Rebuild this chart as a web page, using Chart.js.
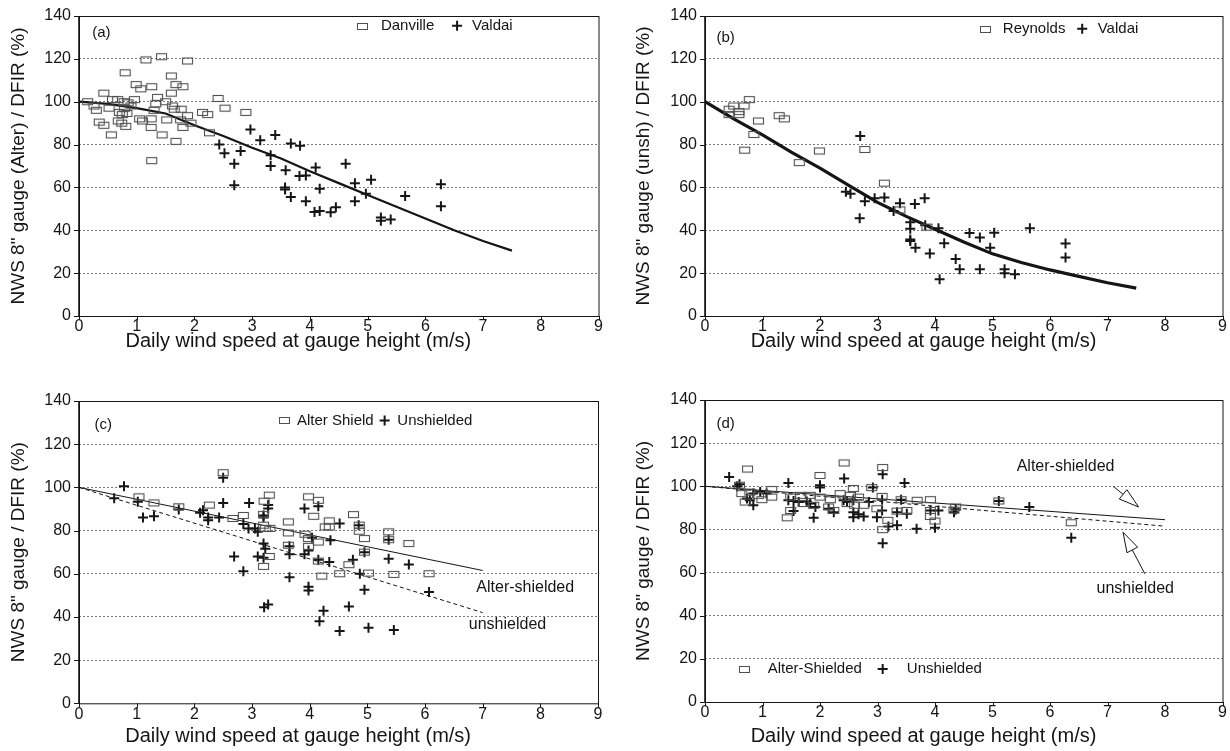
<!DOCTYPE html>
<html>
<head>
<meta charset="utf-8">
<title>NWS 8" gauge / DFIR vs wind speed</title>
<script src="https://cdn.jsdelivr.net/npm/chart.js@4.4.1/dist/chart.umd.min.js"></script>
<style>
  body { margin: 0; background: #fff; }
  #wrap { position: relative; width: 1230px; height: 751px; }
  #wrap canvas { position: absolute; }
</style>
</head>
<body>
<div id="wrap">
  <canvas id="pa" width="615" height="375" style="left:0;top:0"></canvas>
  <canvas id="pb" width="615" height="375" style="left:615px;top:0"></canvas>
  <canvas id="pc" width="615" height="376" style="left:0;top:375px"></canvas>
  <canvas id="pd" width="615" height="376" style="left:615px;top:375px"></canvas>
</div>
<script>
// axes
const xTickVals = [0, 1, 2, 3, 4, 5, 6, 7, 8, 9];
const yTickVals = [0, 20, 40, 60, 80, 100, 120, 140];
const xTitle = 'Daily wind speed at gauge height (m/s)';

// (a) Danville / Valdai, Alter-shielded gauge
const danvilleX = [1.16, 1.43, 1.88, 0.80, 1.60, 0.99, 1.07, 1.26, 1.68, 1.80, 1.60, 0.43, 0.67, 0.78, 0.96, 1.36, 2.41,
  0.15, 0.26, 0.30, 0.52, 0.70, 0.75, 0.68, 0.74, 1.33, 1.30, 1.25, 1.25, 1.10, 1.62, 1.65, 1.77, 1.88, 1.52, 1.76, 1.80,
  1.94, 2.14, 2.23, 2.53, 2.89, 2.26, 0.35, 0.43, 0.56, 0.81, 1.44, 1.68, 1.26, 1.05, 0.90, 0.58, 0.85, 0.79, 0.83, 1.50];
const danvilleY = [119.5, 121, 119, 113.5, 112, 108, 106, 107, 108, 107, 104, 104, 101, 100, 101, 102, 101.5,
  100, 98, 96, 97, 95, 94, 91, 90, 99, 96, 92, 88, 91, 98, 96.5, 96.5, 93.5, 91.5, 91.5, 88,
  90, 95, 94, 97, 95, 85.5, 90.5, 89, 84.5, 88.5, 84.5, 81.5, 72.5, 92, 98, 101, 99.5, 97, 94.5, 100];
const valdaiAX = [2.97, 3.14, 3.40, 2.43, 2.52, 2.80, 2.69, 2.69, 3.67, 3.83, 3.32, 3.32, 3.58, 3.82, 3.93, 4.10, 4.62,
  3.57, 3.57, 3.67, 3.93, 4.17, 4.08, 4.17, 4.36, 4.45, 4.78, 5.06, 4.78, 4.97, 5.23, 5.23, 5.40, 5.65, 6.27, 6.27];
const valdaiAY = [87, 82, 84.5, 80, 76, 77, 71, 61, 80.5, 79.5, 75, 70, 68, 65.3, 65.6, 69.3, 71,
  60, 59, 55.5, 53.5, 59.4, 48.5, 49, 48.4, 50.7, 62, 63.6, 53.5, 57, 46, 44.5, 45, 56, 61.5, 51.2];
const curveAX = [0, 0.5, 1, 1.5, 2, 2.5, 3, 3.5, 4, 4.5, 5, 5.5, 6, 6.5, 7, 7.5];
const curveAY = [100, 99, 97, 94.5, 89, 84, 78.5, 73.5, 67.5, 62, 56.5, 51, 45.5, 40, 35, 30.5];

// (b) Reynolds / Valdai, unshielded gauge
const reynoldsX = [0.42, 0.42, 0.50, 0.68, 0.77, 0.59, 0.59, 0.93, 0.85, 0.69, 1.29, 1.38, 1.64, 1.99, 2.78, 3.12, 3.39, 3.86];
const reynoldsY = [96.5, 94, 98, 98, 101, 95.4, 94, 91, 84.7, 77.4, 93.5, 92, 71.6, 77, 77.7, 62, 49.5, 41.5];
const valdaiBX = [2.70, 2.45, 2.53, 2.78, 2.69, 2.95, 3.12, 3.39, 3.28, 3.65, 3.82, 3.57, 3.57, 3.57, 3.57, 3.66, 3.91,
  3.83, 4.06, 4.16, 4.08, 4.36, 4.43, 4.60, 4.78, 5.03, 4.96, 4.78, 5.21, 5.21, 5.39, 5.65, 6.27, 6.27];
const valdaiBY = [84, 58, 57, 53.5, 45.6, 55, 55.3, 52.6, 49, 52.3, 55, 43.8, 40.7, 35.7, 35, 31.8, 29.2,
  42.3, 41, 34, 17.2, 26.6, 21.8, 38.7, 36.6, 38.9, 31.8, 21.8, 21.8, 20, 19.5, 41, 33.8, 27.3];
const curveBX = [0, 0.5, 1, 1.5, 2, 2.5, 3, 3.5, 4, 4.5, 5, 5.5, 6, 6.5, 7, 7.5];
const curveBY = [100, 92, 84.5, 76.5, 69, 61, 53, 46.5, 40.5, 34.5, 29, 25, 21.5, 18.5, 15.5, 13];

// (c) Alter shield vs unshielded
const alterCX = [2.50, 1.04, 1.30, 1.73, 2.26, 2.85, 2.67, 3.30, 3.21, 3.20, 3.20, 3.23, 3.31, 3.63, 3.63, 3.63, 3.98,
  4.15, 4.07, 3.92, 3.98, 4.15, 3.98, 3.30, 3.20, 4.15, 4.21, 4.27, 4.34, 4.34, 4.76, 4.86, 4.86, 4.95, 4.95, 5.37,
  5.37, 5.72, 4.68, 4.52, 5.02, 5.46, 6.07];
const alterCY = [106.8, 95.6, 92.8, 91, 91.8, 87, 85.6, 96.4, 93.6, 87.5, 82.5, 81, 81, 84, 78.9, 73.2, 95.6,
  94, 86.6, 78.3, 76.3, 74.7, 72.7, 68, 63.4, 65.9, 58.9, 81.7, 84.5, 81.7, 87.4, 82.5, 79.7, 76.3, 70, 79.4,
  75.8, 74, 64.2, 60, 60.3, 59.7, 60];
const unshCX = [0.78, 0.61, 1.02, 1.11, 1.30, 1.73, 2.10, 2.15, 2.24, 2.24, 2.43, 2.50, 2.50, 2.95, 2.85, 2.94, 3.05,
  3.10, 3.28, 3.28, 3.20, 3.20, 3.20, 3.23, 3.10, 3.20, 2.69, 2.85, 3.91, 4.15, 3.65, 3.65, 3.91, 3.98, 4.04, 4.15,
  3.65, 3.98, 3.98, 3.21, 3.28, 4.52, 4.85, 5.37, 4.36, 4.34, 4.75, 4.87, 4.95, 5.37, 5.72, 4.95, 6.07, 4.24, 4.17,
  4.68, 4.52, 5.02, 5.46];
const unshCY = [100.5, 95, 93.3, 86, 86.6, 89.8, 88.2, 89.4, 86, 84.8, 86, 104.5, 92.8, 92.8, 83, 81, 81,
  79.4, 91.8, 90.2, 87, 86, 74, 71.6, 68, 67.4, 68, 61.2, 90.2, 91.3, 72.7, 69, 69, 70.8, 76.7, 66.5,
  58.4, 54, 52.2, 44.5, 45.7, 83.3, 82.5, 75.8, 75.5, 65.4, 66.5, 60, 70, 67, 64.3, 52.6, 51.5, 42.9, 38,
  44.8, 33.5, 35, 34];
const fitCX = [0, 7];
const fitCAlterY = [100, 61.5];
const fitCUnshY = [100, 42];

// (d) Alter-shielded vs unshielded
const alterDX = [0.74, 2.42, 3.09, 2.00, 0.60, 0.78, 0.93, 0.64, 0.99, 0.70, 1.16, 1.16, 1.49, 1.66, 1.83, 2.00, 2.18,
  2.35, 2.53, 2.67, 2.58, 2.90, 3.08, 1.49, 1.43, 1.71, 1.89, 2.15, 2.24, 2.47, 2.60, 2.76, 2.99, 3.18, 3.09, 3.34,
  3.51, 3.41, 3.69, 3.92, 3.92, 3.92, 4.00, 4.36, 4.33, 5.11, 6.37];
const alterDY = [108, 110.8, 108.7, 105, 100.5, 97.3, 95.8, 96.6, 93.8, 92.7, 98.5, 95, 95, 95.8, 95.8, 95, 93.8,
  96.6, 95.8, 95, 99, 99.4, 95.3, 88.8, 85.4, 92, 91.2, 90.4, 88.8, 92, 91.2, 91.2, 89.6, 84.2, 79.9, 88.5,
  88.8, 93.8, 93.5, 93.8, 88.8, 86, 83.9, 90.4, 89, 93.2, 83.1];
const unshDX = [0.42, 0.60, 0.56, 1.45, 2.42, 2.00, 2.00, 3.09, 3.47, 2.92, 0.84, 0.96, 0.78, 0.84, 0.73, 1.07, 1.45,
  1.54, 1.63, 1.77, 1.83, 1.54, 1.89, 1.92, 2.15, 2.24, 2.41, 2.47, 2.58, 2.58, 2.58, 2.67, 2.76, 2.85, 3.08, 3.08,
  2.99, 3.09, 3.19, 3.34, 3.41, 3.34, 3.51, 3.68, 3.92, 4.06, 4.00, 4.36, 4.33, 5.11, 5.64, 6.37];
const unshDY = [104.3, 101, 100, 101.5, 103.6, 100.5, 99.4, 105.6, 101.5, 99.4, 96.6, 97.3, 93.5, 91.2, 94.3, 96.6, 93.5,
  93.2, 92.7, 93, 92, 88.5, 85.4, 90.4, 89.6, 88, 93.5, 92.7, 93.5, 88, 85.7, 87, 86, 92.7, 93.8, 88.8,
  85.7, 73.6, 81.4, 81.9, 93.8, 88, 87.3, 80.3, 88.8, 88.8, 80.8, 89.2, 88, 93.2, 90.4, 76.1];
const fitDX = [0, 8];
const fitDAlterY = [100, 84.5];
const fitDUnshY = [100, 81.5];

const FONT = "'Liberation Sans', Arial, Helvetica, sans-serif";
const INK = '#151515';

const zip = (xs, ys) => xs.map((x, i) => ({ x: x, y: ys[i] }));

// open box marker like the scanned figure (wider than tall)
function boxMarker(w, h) {
  const c = document.createElement('canvas');
  c.width = w + 2;
  c.height = h + 2;
  const g = c.getContext('2d');
  g.strokeStyle = '#505050';
  g.lineWidth = 1.1;
  g.strokeRect(1.5, 1.5, w - 1, h - 1);
  return c;
}
const boxPt = boxMarker(11, 7);

function boxSet(label, xs, ys) {
  return { label, data: zip(xs, ys), pointStyle: boxPt, pointRadius: 5, showLine: false };
}
function crossSet(label, xs, ys) {
  return { label, data: zip(xs, ys), pointStyle: 'cross', pointRadius: 5, borderColor: INK,
    backgroundColor: INK, pointBorderWidth: 2, showLine: false };
}
function lineSet(label, xs, ys, width, dash) {
  return { label, data: zip(xs, ys), showLine: true, pointRadius: 0, borderColor: INK,
    borderWidth: width, borderDash: dash || [], fill: false, tension: 0 };
}

// frame, tick marks, x title, legends, labels and arrows
const paperPlugin = {
  id: 'paper',
  afterDatasetsDraw(chart, args, o) {
    const { ctx, chartArea: a, scales } = chart;
    const px = v => scales.x.getPixelForValue(v);
    const py = v => scales.y.getPixelForValue(v);
    ctx.save();
    ctx.strokeStyle = INK;
    ctx.lineWidth = 1;
    ctx.strokeRect(a.left + 0.5, a.top + 0.5, a.right - a.left, a.bottom - a.top);
    ctx.lineWidth = 1.6;
    ctx.beginPath();
    ctx.moveTo(a.left, a.top);
    ctx.lineTo(a.left, a.bottom);
    ctx.stroke();

    ctx.lineWidth = 1;
    ctx.beginPath();
    yTickVals.forEach(v => {
      const y = Math.round(py(v)) + 0.5;
      ctx.moveTo(a.left - 5, y);
      ctx.lineTo(a.left, y);
    });
    xTickVals.forEach(v => {
      const x = Math.round(px(v)) + 0.5;
      ctx.moveTo(x, a.bottom);
      ctx.lineTo(x, a.bottom + 4);
    });
    ctx.stroke();

    ctx.fillStyle = INK;
    ctx.textBaseline = 'middle';

    // x axis title sits a little left of the plot centre in the original
    ctx.font = '20px ' + FONT;
    ctx.textAlign = 'center';
    ctx.fillText(xTitle, px(o.titleX), a.bottom + o.titleDy);

    (o.notes || []).forEach(n => {
      ctx.font = n.size + 'px ' + FONT;
      ctx.textAlign = 'left';
      ctx.fillText(n.text, px(n.x), py(n.y));
    });

    (o.key || []).forEach(k => {
      const x = px(k.x), y = py(k.y);
      if (k.mark === 'box') {
        ctx.lineWidth = 1;
        ctx.strokeStyle = '#505050';
        ctx.strokeRect(Math.round(x - 5) + 0.5, Math.round(y - 3) + 0.5, 10, 6);
      } else if (k.mark === 'cross') {
        ctx.lineWidth = 2;
        ctx.strokeStyle = INK;
        ctx.beginPath();
        ctx.moveTo(x - 5, y); ctx.lineTo(x + 5, y);
        ctx.moveTo(x, y - 5); ctx.lineTo(x, y + 5);
        ctx.stroke();
      } else {
        ctx.font = '15px ' + FONT;
        ctx.textAlign = 'left';
        ctx.fillText(k.text, x, y);
      }
    });

    (o.arrows || []).forEach(ar => {
      const x0 = px(ar.from[0]), y0 = py(ar.from[1]);
      const x1 = px(ar.to[0]), y1 = py(ar.to[1]);
      const ang = Math.atan2(y1 - y0, x1 - x0);
      const len = 20, half = 6;
      const bx = x1 - Math.cos(ang) * len, by = y1 - Math.sin(ang) * len;
      ctx.strokeStyle = INK;
      ctx.lineWidth = 1;
      ctx.beginPath();
      ctx.moveTo(x0, y0);
      ctx.lineTo(bx, by);
      ctx.stroke();
      ctx.beginPath();
      ctx.moveTo(x1, y1);
      ctx.lineTo(bx + Math.sin(ang) * half, by - Math.cos(ang) * half);
      ctx.lineTo(bx - Math.sin(ang) * half, by + Math.cos(ang) * half);
      ctx.closePath();
      ctx.fillStyle = '#fff';
      ctx.fill();
      ctx.stroke();
      ctx.fillStyle = INK;
    });
    ctx.restore();
  }
};

function panel(id, p) {
  return new Chart(document.getElementById(id), {
    type: 'scatter',
    data: { datasets: p.datasets },
    options: {
      animation: false,
      responsive: false,
      devicePixelRatio: 1,
      layout: { padding: p.pad },
      plugins: {
        legend: { display: false },
        tooltip: { enabled: false },
        paper: p.paper
      },
      scales: {
        x: {
          type: 'linear', min: 0, max: 9,
          afterBuildTicks: s => { s.ticks = xTickVals.map(v => ({ value: v })); },
          afterFit: s => { s.height = p.xH; },
          grid: { drawOnChartArea: false, drawTicks: false },
          border: { display: false },
          ticks: { font: { family: FONT, size: 16, lineHeight: 1 }, color: INK, padding: 3, maxRotation: 0 },
          title: { display: false }
        },
        y: {
          type: 'linear', min: 0, max: 140,
          afterBuildTicks: s => { s.ticks = yTickVals.map(v => ({ value: v })); },
          afterFit: s => { s.width = p.yW; },
          grid: {
            drawTicks: false, lineWidth: 1,
            color: c => (c.tick && (c.tick.value === 0 || c.tick.value === 140)) ? 'rgba(0,0,0,0)' : '#7a7a7a'
          },
          border: { display: false, dash: [2, 2] },
          ticks: { font: { family: FONT, size: 16, lineHeight: 1 }, color: INK, padding: 8 },
          title: { display: true, text: p.yTitle, color: INK,
            font: { family: FONT, size: 19, lineHeight: 1.2 }, padding: { top: 7, bottom: 0 } }
        }
      }
    },
    plugins: [paperPlugin]
  });
}

panel('pa', {
  pad: { left: 0, right: 16.5, top: 15, bottom: 0 }, yW: 79, xH: 59,
  yTitle: 'NWS 8" gauge (Alter) / DFIR (%)',
  datasets: [
    boxSet('Danville', danvilleX, danvilleY),
    crossSet('Valdai', valdaiAX, valdaiAY),
    lineSet('fit', curveAX, curveAY, 2.2)
  ],
  paper: {
    titleX: 3.8, titleDy: 25,
    notes: [{ text: '(a)', x: 0.23, y: 132, size: 15 }],
    key: [
      { mark: 'box', x: 4.9, y: 135.5 }, { text: 'Danville', x: 5.23, y: 135.5 },
      { mark: 'cross', x: 6.55, y: 135.5 }, { text: 'Valdai', x: 6.81, y: 135.5 }
    ]
  }
});

panel('pb', {
  pad: { left: 10, right: 7.5, top: 14, bottom: 0 }, yW: 80, xH: 59,
  yTitle: 'NWS 8" gauge (unsh) / DFIR (%)',
  datasets: [
    boxSet('Reynolds', reynoldsX, reynoldsY),
    crossSet('Valdai', valdaiBX, valdaiBY),
    lineSet('fit', curveBX, curveBY, 3.2)
  ],
  paper: {
    titleX: 3.8, titleDy: 25,
    notes: [{ text: '(b)', x: 0.2, y: 130, size: 15 }],
    key: [
      { mark: 'box', x: 4.87, y: 134 }, { text: 'Reynolds', x: 5.18, y: 134 },
      { mark: 'cross', x: 6.56, y: 134 }, { text: 'Valdai', x: 6.83, y: 134 }
    ]
  }
});

panel('pc', {
  pad: { left: 0, right: 17, top: 26, bottom: 0 }, yW: 79, xH: 47.7,
  yTitle: 'NWS 8" gauge / DFIR (%)',
  datasets: [
    boxSet('Alter Shield', alterCX, alterCY),
    crossSet('Unshielded', unshCX, unshCY),
    lineSet('Alter-shielded', fitCX, fitCAlterY, 1),
    lineSet('unshielded', fitCX, fitCUnshY, 1, [4, 3])
  ],
  paper: {
    titleX: 3.8, titleDy: 33,
    notes: [
      { text: '(c)', x: 0.27, y: 129, size: 15 },
      { text: 'Alter-shielded', x: 6.89, y: 53.8, size: 16 },
      { text: 'unshielded', x: 6.76, y: 36.4, size: 16 }
    ],
    key: [
      { mark: 'box', x: 3.55, y: 131 }, { text: 'Alter Shield', x: 3.78, y: 131 },
      { mark: 'cross', x: 5.3, y: 131 }, { text: 'Unshielded', x: 5.52, y: 131 }
    ]
  }
});

panel('pd', {
  pad: { left: 10, right: 7.5, top: 25, bottom: 0 }, yW: 80, xH: 49,
  yTitle: 'NWS 8" gauge / DFIR (%)',
  datasets: [
    boxSet('Alter-Shielded', alterDX, alterDY),
    crossSet('Unshielded', unshDX, unshDY),
    lineSet('Alter-shielded', fitDX, fitDAlterY, 1),
    lineSet('unshielded', fitDX, fitDUnshY, 1, [4, 3])
  ],
  paper: {
    titleX: 3.8, titleDy: 34,
    notes: [
      { text: '(d)', x: 0.2, y: 129, size: 15 },
      { text: 'Alter-shielded', x: 5.42, y: 109.3, size: 16 },
      { text: 'unshielded', x: 6.81, y: 52.4, size: 16 }
    ],
    key: [
      { mark: 'box', x: 0.68, y: 15.3 }, { text: 'Alter-Shielded', x: 1.09, y: 15.3 },
      { mark: 'cross', x: 3.09, y: 15.3 }, { text: 'Unshielded', x: 3.51, y: 15.3 }
    ],
    arrows: [
      { from: [7.1, 100], to: [7.54, 90.4] },
      { from: [7.65, 59.4], to: [7.27, 78.7] }
    ]
  }
});
</script>
</body>
</html>
